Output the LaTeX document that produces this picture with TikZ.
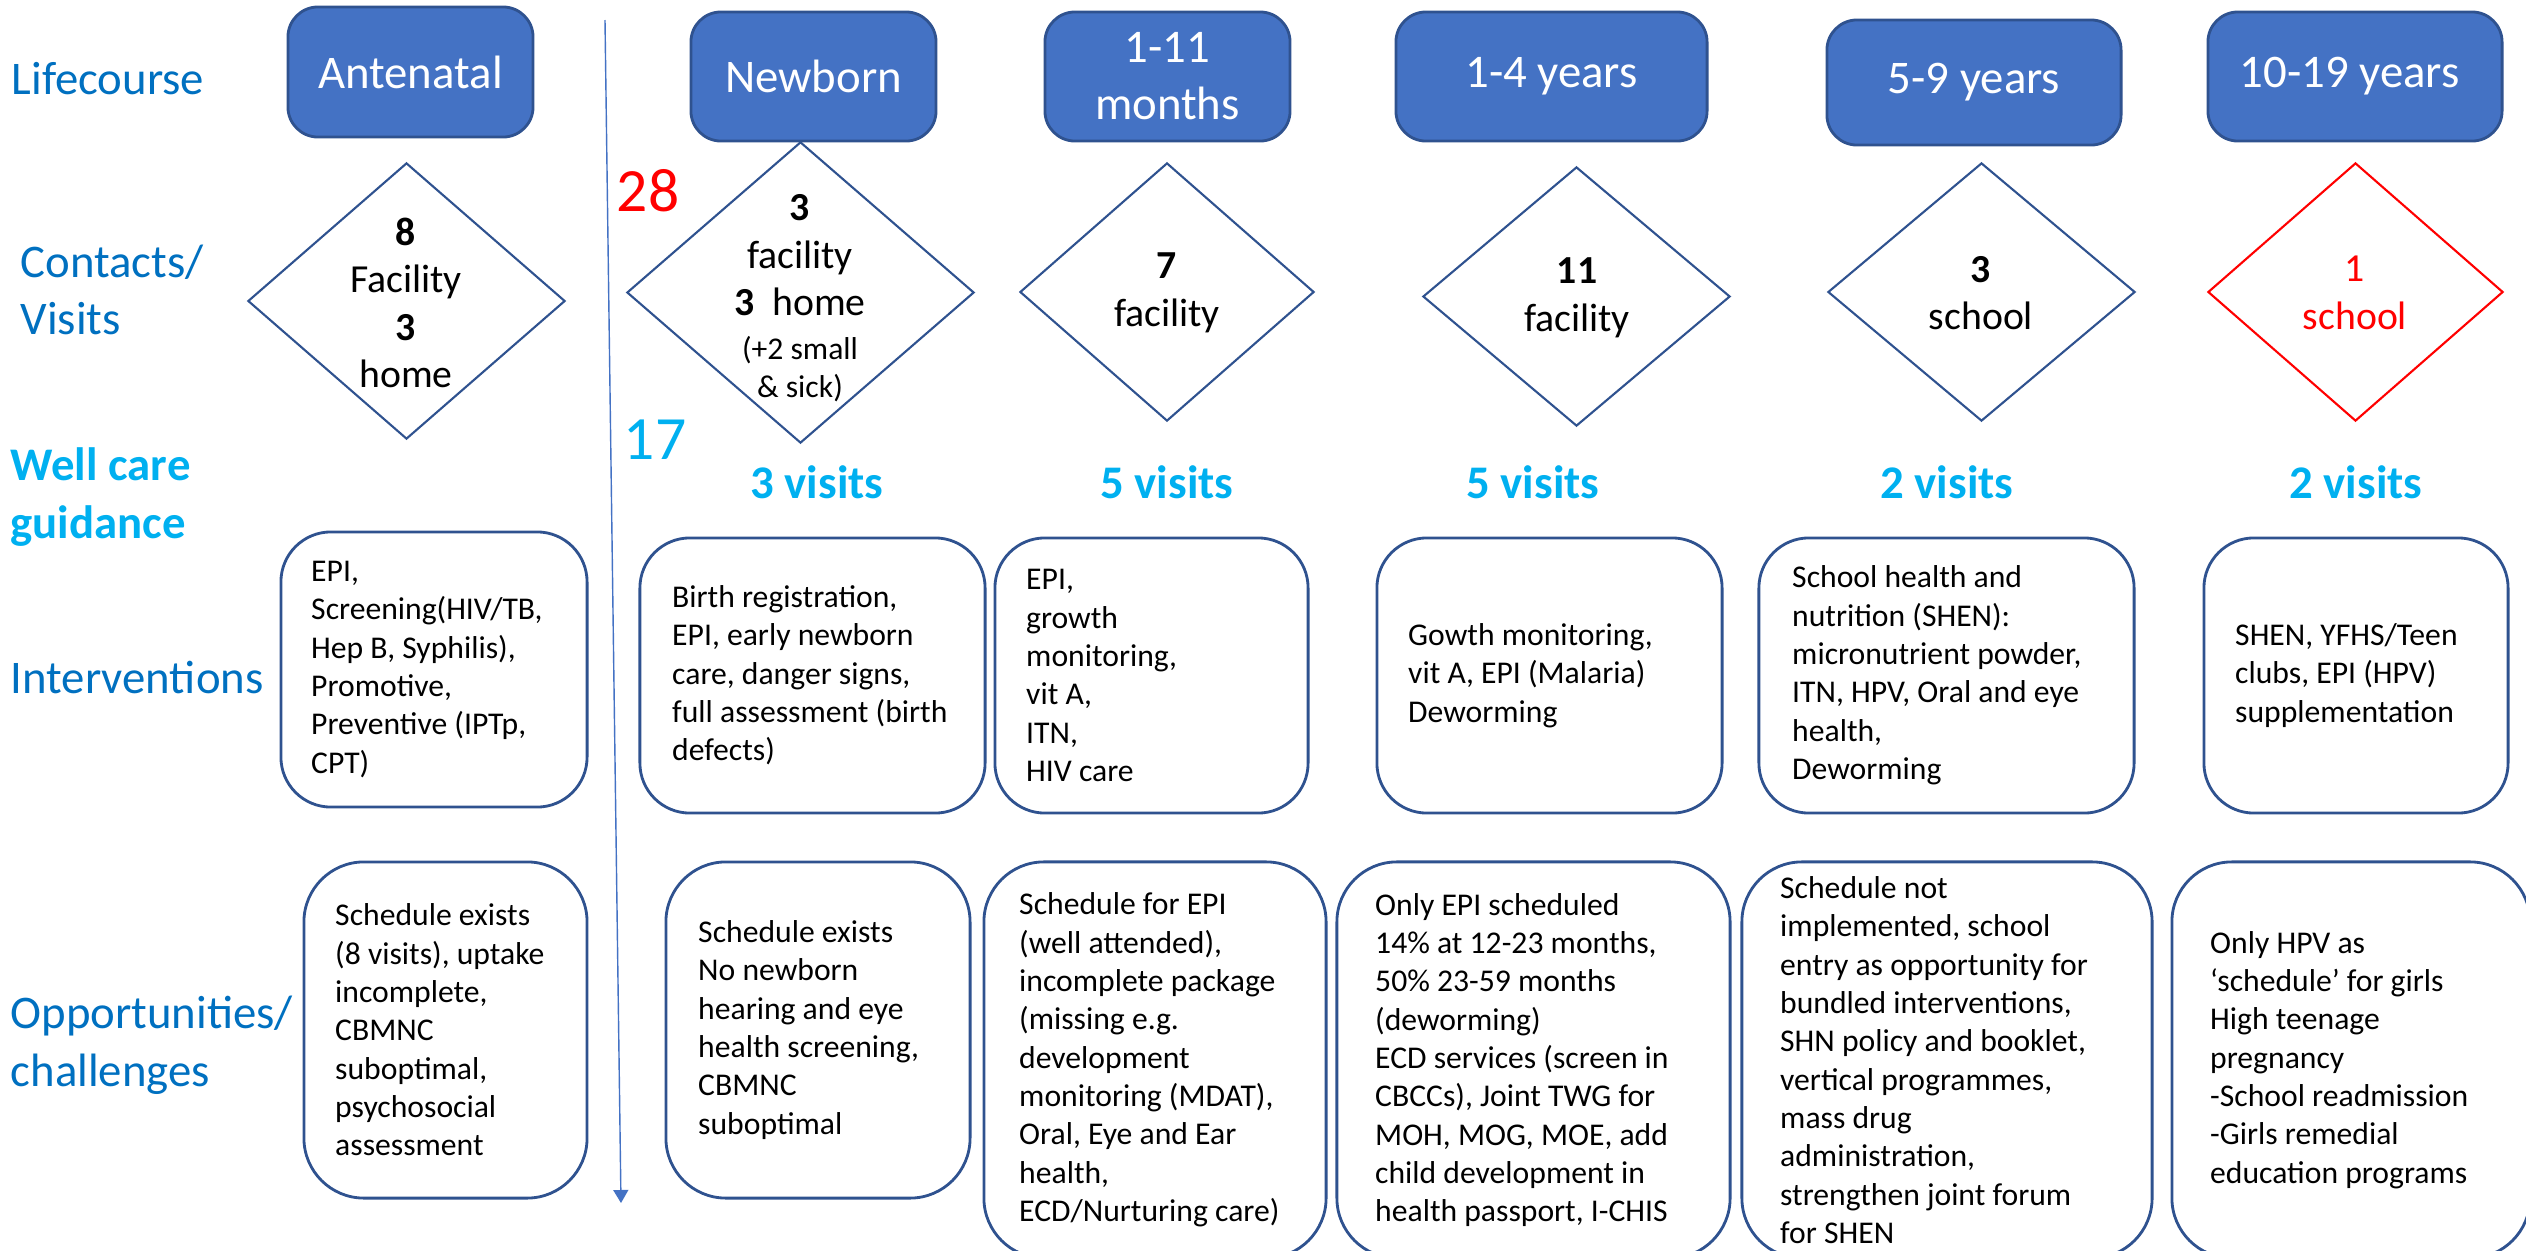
\documentclass[tikz,border=0pt]{standalone}
\usepackage{fontspec}
\setmainfont{Carlito}
\usetikzlibrary{shapes.geometric,arrows.meta}

\definecolor{lifeblue}{HTML}{4472C4}
\definecolor{lifeedge}{HTML}{2F528F}
\definecolor{rowblue}{HTML}{0070C0}
\definecolor{guidecyan}{HTML}{00B0F0}

\tikzset{
  rowlabel/.style={anchor=west, align=left, text=rowblue, inner sep=0pt,
    font=\fontsize{13.3}{16.4}\selectfont},
  lifebox/.style={draw=lifeedge, line width=0.8pt, fill=lifeblue, rounded corners=0.3cm,
    text=white, align=center, inner sep=0pt, font=\fontsize{13.3}{16.2}\selectfont},
  visitdia/.style={diamond, draw=lifeedge, line width=0.6pt, inner sep=0pt},
  diatext/.style={align=center, inner sep=0pt, font=\fontsize{11.3}{13.5}\selectfont},
  visitcount/.style={text=guidecyan, inner sep=0pt, font=\fontsize{13.3}{16}\selectfont\bfseries},
  carebox/.style={draw=lifeedge, line width=0.8pt, rounded corners=0.5cm, inner sep=0pt,
    minimum height=2.75cm},
  oppbox/.style={draw=lifeedge, line width=0.8pt, rounded corners=0.6cm, inner sep=0pt},
  boxtext/.style={anchor=west, align=left, inner sep=0pt, font=\fontsize{9}{10.9}\selectfont},
  bignum/.style={inner sep=0pt, font=\fontsize{17.5}{20}\selectfont}
}

\begin{document}
\begin{tikzpicture}[x=0.01cm, y=-0.01cm]
    \useasboundingbox (0,0) rectangle (2526,1251);

    % Row labels
    \node[rowlabel] (row-life) at (11,79) {Lifecourse};
    \node[rowlabel] (row-cont) at (20,290) {Contacts/\\Visits};
    \node[rowlabel, text=guidecyan, font=\fontsize{13.3}{16.4}\selectfont\bfseries] (row-well) at (10,497) {Well care\\guidance};
    \node[rowlabel] (row-int) at (10,677) {Interventions};
    \node[rowlabel] (row-opp) at (10,1045) {Opportunities/\\challenges};

    % Lifecourse stages
    \foreach \key/\bx/\by/\bw/\bh/\btxt in {
        ante/410.5/72/2.45/1.30/Antenatal,
        newb/813.5/76.5/2.45/1.29/Newborn,
        mon/1167.5/76.5/2.45/1.29/{1-11\\months},
        yrs/1551.5/76.5/3.11/1.29/{1-4 years},
        sch/1974/82.5/2.94/1.25/{5-9 years},
        teen/2355/76.5/2.94/1.29/{10-19 years}
    } {
        \node[lifebox, minimum width=\bw cm, minimum height=\bh cm] (life-\key) at (\bx,\by) {\btxt};
    }

    % Time line after birth
    \coordinate (time-top) at (605,20);
    \coordinate (time-end) at (621,1203);
    \draw[lifeblue, line width=0.4pt, -{Triangle[length=0.13cm,width=0.15cm]}] (time-top) -- (time-end);
    \node[bignum, text=red] (days-28) at (648,191) {28};
    \node[bignum, text=guidecyan] (days-17) at (655,440) {17};

    % Contacts
    \foreach \key/\bx/\by/\bw/\bh in {
        ante/406.5/301/3.17/2.76,
        newb/800.5/292.5/3.47/3.01,
        mon/1167/292/2.94/2.58,
        yrs/1576.5/296.5/3.07/2.59,
        sch/1981.5/292/3.07/2.58
    } {
        \node[visitdia, minimum width=\bw cm, minimum height=\bh cm] (dia-\key) at (\bx,\by) {};
    }
    \node[visitdia, draw=red, minimum width=2.95cm, minimum height=2.58cm] (dia-teen) at (2355.5,292) {};

    \node[diatext] (dtxt-ante) at (406,303) {\textbf{8}\\Facility\\\textbf{3}\\home};
    \node[diatext] (dtxt-newb) at (800,298) {\textbf{3}\\facility\\\textbf{3}\ \ home\\[-1pt]{\fontsize{9}{11}\selectfont(+2 small}\\[-2.8pt]{\fontsize{9}{11}\selectfont\& sick)}};
    \node[diatext] (dtxt-mon) at (1167,293) {\textbf{7}\\facility};
    \node[diatext] (dtxt-yrs) at (1577,298) {\textbf{11}\\facility};
    \node[diatext] (dtxt-sch) at (1981,293) {\textbf{3}\\school};
    \node[diatext, text=red] (dtxt-teen) at (2355,293) {1\\school};

    % Well care guidance
    \foreach \key/\bx/\btxt in {newb/817/3 visits, mon/1167/5 visits, yrs/1533/5 visits,
                                sch/1947/2 visits, teen/2356/2 visits} {
        \node[visitcount] (visit-\key) at (\bx,482) {\btxt};
    }

    % Interventions
    \node[carebox, minimum width=3.06cm] (int-ante) at (434,669.5) {};
    \node[carebox, minimum width=3.45cm] (int-newb) at (812.5,675.5) {};
    \node[carebox, minimum width=3.13cm] (int-mon) at (1151.5,675.5) {};
    \node[carebox, minimum width=3.45cm] (int-yrs) at (1549.5,675.5) {};
    \node[carebox, minimum width=3.75cm] (int-sch) at (1946.5,675.5) {};
    \node[carebox, minimum width=3.04cm] (int-teen) at (2356,675.5) {};

    \node[boxtext] (itxt-ante) at ([xshift=0.31cm]int-ante.west)
        {EPI,\\Screening(HIV/TB,\\Hep B, Syphilis),\\Promotive,\\Preventive (IPTp,\\CPT)};
    \node[boxtext] (itxt-newb) at ([xshift=0.33cm]int-newb.west)
        {Birth registration,\\EPI, early newborn\\care, danger signs,\\full assessment (birth\\defects)};
    \node[boxtext] (itxt-mon) at ([xshift=0.32cm]int-mon.west)
        {EPI,\\growth\\monitoring,\\vit A,\\ITN,\\HIV care};
    \node[boxtext] (itxt-yrs) at ([xshift=0.32cm]int-yrs.west)
        {Gowth monitoring,\\vit A, EPI (Malaria)\\Deworming};
    \node[boxtext] (itxt-sch) at ([xshift=0.34cm]int-sch.west)
        {School health and\\nutrition (SHEN):\\micronutrient powder,\\ITN, HPV, Oral and eye\\health,\\Deworming};
    \node[boxtext] (itxt-teen) at ([xshift=0.32cm]int-teen.west)
        {SHEN, YFHS/Teen\\clubs, EPI (HPV)\\supplementation};

    % Opportunities and challenges
    \node[oppbox, minimum width=2.83cm, minimum height=3.36cm] (opp-ante) at (445.5,1030) {};
    \node[oppbox, minimum width=3.04cm, minimum height=3.36cm] (opp-newb) at (818,1030) {};
    \node[oppbox, minimum width=3.42cm, minimum height=3.96cm] (opp-mon) at (1155,1060) {};
    \node[oppbox, minimum width=3.93cm, minimum height=3.96cm] (opp-yrs) at (1533.5,1060) {};
    \node[oppbox, minimum width=4.10cm, minimum height=3.96cm] (opp-sch) at (1947,1060) {};
    \node[oppbox, minimum width=3.58cm, minimum height=3.96cm] (opp-teen) at (2351,1060) {};

    \node[boxtext] (otxt-ante) at ([xshift=0.32cm]opp-ante.west)
        {Schedule exists\\(8 visits), uptake\\incomplete,\\CBMNC\\suboptimal,\\psychosocial\\assessment};
    \node[boxtext] (otxt-newb) at ([xshift=0.33cm]opp-newb.west)
        {Schedule exists\\No newborn\\hearing and eye\\health screening,\\CBMNC\\suboptimal};
    \node[boxtext] (otxt-mon) at ([xshift=0.36cm]opp-mon.west)
        {Schedule for EPI\\(well attended),\\incomplete package\\(missing e.g.\\development\\monitoring (MDAT),\\Oral, Eye and Ear\\health,\\ECD/Nurturing care)};
    \node[boxtext] (otxt-yrs) at ([xshift=0.39cm]opp-yrs.west)
        {Only EPI scheduled\\14\% at 12-23 months,\\50\% 23-59 months\\(deworming)\\ECD services (screen in\\CBCCs), Joint TWG for\\MOH, MOG, MOE, add\\child development in\\health passport, I-CHIS};
    \node[boxtext] (otxt-sch) at ([xshift=0.39cm]opp-sch.west)
        {Schedule not\\implemented, school\\entry as opportunity for\\bundled interventions,\\SHN policy and booklet,\\vertical programmes,\\mass drug\\administration,\\strengthen joint forum\\for SHEN};
    \node[boxtext] (otxt-teen) at ([xshift=0.39cm]opp-teen.west)
        {Only HPV as\\‘schedule’ for girls\\High teenage\\pregnancy\\-School readmission\\-Girls remedial\\education programs};
\end{tikzpicture}
\end{document}
